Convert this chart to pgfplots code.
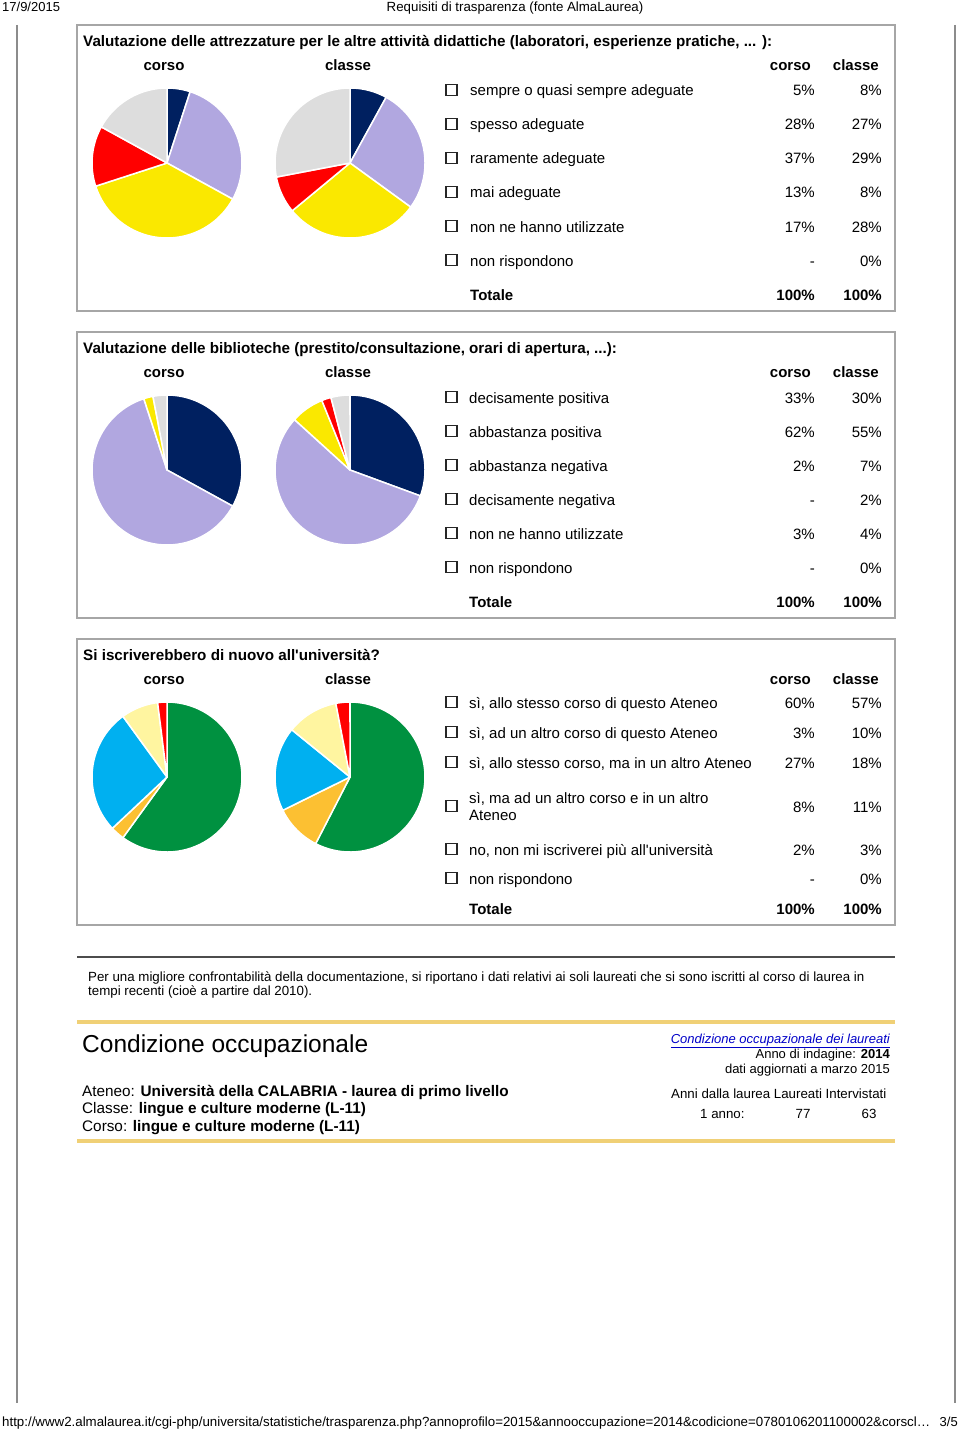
\documentclass[border=0pt]{standalone}
\usepackage{pgfplots}
\pgfplotsset{compat=1.18}
\usepackage{fontspec}
\setmainfont{Liberation Sans}[Ligatures=TeXOff]
\definecolor{cnavy}{RGB}{0,32,96}
\definecolor{clav}{RGB}{177,167,224}
\definecolor{cyel}{RGB}{250,232,0}
\definecolor{cred}{RGB}{255,0,0}
\definecolor{cgray}{RGB}{221,221,221}
\definecolor{cgreen}{RGB}{0,145,64}
\definecolor{cblue}{RGB}{0,176,240}
\definecolor{corange}{RGB}{252,192,50}
\definecolor{cpale}{RGB}{255,245,160}
\definecolor{cgold}{RGB}{240,208,118}
\definecolor{clink}{RGB}{0,0,200}
\newcommand\fsz[1]{\fontsize{#1bp}{#1bp}\selectfont}
% \slice{start}{value}{total}{colour}
\newcommand\slice[4]{\addplot[fill=#4, draw=white, line width=1.5bp, line join=round,
  domain={90-360*(#1+#2)/#3}:{90-360*(#1)/#3}, samples=60, variable=\t]
  ({cos(\t)},{sin(\t)}) -- (axis cs:0,0) -- cycle;}
\pgfplotsset{pie/.style={anchor=center, width=150bp, height=150bp, scale only axis,
  hide axis, xmin=-1, xmax=1, ymin=-1, ymax=1, clip=false}}
\newcommand\chk[1]{\draw[line width=1.1bp, black!85] (446,#1-5.5) rectangle (457,#1+5.5);}
\newcommand\row[5]{% y, x, label, corso, classe
  \chk{#1}
  \node[anchor=base west, inner sep=0, font=\fsz{15}] at (#2,#1+6) {#3};
  \node[anchor=base east, inner sep=0, font=\fsz{15}] at (815,#1+6) {#4};
  \node[anchor=base east, inner sep=0, font=\fsz{15}] at (882,#1+6) {#5};}
\newcommand\heads[1]{% y
  \node[anchor=base, inner sep=0, font=\fsz{15}\bfseries] at (164,#1+6.5) {corso};
  \node[anchor=base, inner sep=0, font=\fsz{15}\bfseries] at (348,#1+6.5) {classe};
  \node[anchor=base east, inner sep=0, font=\fsz{15}\bfseries] at (811,#1+6.5) {corso};
  \node[anchor=base east, inner sep=0, font=\fsz{15}\bfseries] at (879,#1+6.5) {classe};}
\newcommand\totale[2]{% y, x
  \node[anchor=base west, inner sep=0, font=\fsz{15}\bfseries] at (#2,#1+6.5) {Totale};
  \node[anchor=base east, inner sep=0, font=\fsz{15}\bfseries] at (815,#1+6.5) {100\%};
  \node[anchor=base east, inner sep=0, font=\fsz{15}\bfseries] at (882,#1+6.5) {100\%};}
\begin{document}
\begin{tikzpicture}[x=1bp, y=-1bp]
\fill[white] (0,0) rectangle (960,1433);
\path[use as bounding box] (0,0) rectangle (960,1433);
% page header
\node[anchor=base west, inner sep=0, font=\fsz{13}] at (2,12) {17/9/2015};
\node[anchor=base, inner sep=0, font=\fsz{13.3}] at (515,12) {Requisiti di trasparenza (fonte AlmaLaurea)};
% side rules
\draw[black!45, line width=1.2bp] (17,25) -- (17,1403);
\draw[black!45, line width=1.2bp] (955,25) -- (955,1403);
% boxes
\foreach \yy in {25,332,639} {
  \draw[black!35, line width=1.3bp] (77,\yy) rectangle (895,\yy+286);
}
% ---------------- Section 1
\node[anchor=base west, inner sep=0, font=\fsz{15.2}\bfseries] at (83,46.5) {Valutazione delle attrezzature per le altre attività didattiche (laboratori, esperienze pratiche, ... ):};
\heads{64}
\row{90}{470}{sempre o quasi sempre adeguate}{5\%}{8\%}
\row{124}{470}{spesso adeguate}{28\%}{27\%}
\row{158}{470}{raramente adeguate}{37\%}{29\%}
\row{192}{470}{mai adeguate}{13\%}{8\%}
\row{226}{470}{non ne hanno utilizzate}{17\%}{28\%}
\row{260}{470}{non rispondono}{-}{0\%}
\totale{294}{470}
\begin{axis}[pie, at={(167bp,-163bp)}]
\slice{0}{5}{100}{cnavy}
\slice{5}{28}{100}{clav}
\slice{33}{37}{100}{cyel}
\slice{70}{13}{100}{cred}
\slice{83}{17}{100}{cgray}
\end{axis}
\begin{axis}[pie, at={(350bp,-163bp)}]
\slice{0}{8}{100}{cnavy}
\slice{8}{27}{100}{clav}
\slice{35}{29}{100}{cyel}
\slice{64}{8}{100}{cred}
\slice{72}{28}{100}{cgray}
\end{axis}
% ---------------- Section 2
\node[anchor=base west, inner sep=0, font=\fsz{15.2}\bfseries] at (83,353.5) {Valutazione delle biblioteche (prestito/consultazione, orari di apertura, ...):};
\heads{371}
\row{397}{469}{decisamente positiva}{33\%}{30\%}
\row{431}{469}{abbastanza positiva}{62\%}{55\%}
\row{465}{469}{abbastanza negativa}{2\%}{7\%}
\row{499}{469}{decisamente negativa}{-}{2\%}
\row{533}{469}{non ne hanno utilizzate}{3\%}{4\%}
\row{567}{469}{non rispondono}{-}{0\%}
\totale{601}{469}
\begin{axis}[pie, at={(167bp,-470bp)}]
\slice{0}{33}{100}{cnavy}
\slice{33}{62}{100}{clav}
\slice{95}{2}{100}{cyel}
\slice{97}{3}{100}{cgray}
\end{axis}
\begin{axis}[pie, at={(350bp,-470bp)}]
\slice{0}{30}{98}{cnavy}
\slice{30}{55}{98}{clav}
\slice{85}{7}{98}{cyel}
\slice{92}{2}{98}{cred}
\slice{94}{4}{98}{cgray}
\end{axis}
% ---------------- Section 3
\node[anchor=base west, inner sep=0, font=\fsz{15.2}\bfseries] at (83,660.5) {Si iscriverebbero di nuovo all'università?};
\heads{678}
\row{702}{469}{sì, allo stesso corso di questo Ateneo}{60\%}{57\%}
\row{732}{469}{sì, ad un altro corso di questo Ateneo}{3\%}{10\%}
\row{762}{469}{sì, allo stesso corso, ma in un altro Ateneo}{27\%}{18\%}
\row{806}{469}{}{8\%}{11\%}
\node[anchor=base west, inner sep=0, font=\fsz{15}] at (469,803) {sì, ma ad un altro corso e in un altro};
\node[anchor=base west, inner sep=0, font=\fsz{15}] at (469,820) {Ateneo};
\row{849}{469}{no, non mi iscriverei più all'università}{2\%}{3\%}
\row{878}{469}{non rispondono}{-}{0\%}
\totale{908}{469}
\begin{axis}[pie, at={(167bp,-777bp)}]
\slice{0}{60}{100}{cgreen}
\slice{60}{3}{100}{corange}
\slice{63}{27}{100}{cblue}
\slice{90}{8}{100}{cpale}
\slice{98}{2}{100}{cred}
\end{axis}
\begin{axis}[pie, at={(350bp,-777bp)}]
\slice{0}{57}{99}{cgreen}
\slice{57}{10}{99}{corange}
\slice{67}{18}{99}{cblue}
\slice{85}{11}{99}{cpale}
\slice{96}{3}{99}{cred}
\end{axis}
% ---------------- Note
\draw[black!70, line width=2.5bp] (77,957) -- (895,957);
\node[anchor=base west, inner sep=0, font=\fsz{13.3}] at (88,981) {Per una migliore confrontabilità della documentazione, si riportano i dati relativi ai soli laureati che si sono iscritti al corso di laurea in};
\node[anchor=base west, inner sep=0, font=\fsz{13.3}] at (88,995) {tempi recenti (cioè a partire dal 2010).};
% ---------------- Condizione occupazionale
\draw[cgold, line width=4bp] (77,1022) -- (895,1022);
\draw[cgold, line width=4bp] (77,1141) -- (895,1141);
\node[anchor=base west, inner sep=0, font=\fsz{24.5}] at (82,1052) {Condizione occupazionale};
\node[anchor=base west, inner sep=0, font=\fsz{15.3}] at (82,1096) {Ateneo: \textbf{Università della CALABRIA - laurea di primo livello}};
\node[anchor=base west, inner sep=0, font=\fsz{15.3}] at (82,1113.5) {Classe: \textbf{lingue e culture moderne (L-11)}};
\node[anchor=base west, inner sep=0, font=\fsz{15.3}] at (82,1131) {Corso: \textbf{lingue e culture moderne (L-11)}};
\node[anchor=base east, inner sep=0, font=\fsz{13}, text=clink] at (890,1043) {\underline{\itshape Condizione occupazionale dei laureati}};
\node[anchor=base east, inner sep=0, font=\fsz{13}] at (890,1058) {Anno di indagine: \textbf{2014}};
\node[anchor=base east, inner sep=0, font=\fsz{13}] at (890,1073) {dati aggiornati a marzo 2015};
\node[anchor=base west, inner sep=0, font=\fsz{13.3}] at (671,1098) {Anni dalla laurea Laureati Intervistati};
\node[anchor=base west, inner sep=0, font=\fsz{13.3}] at (700,1118) {1 anno:};
\node[anchor=base, inner sep=0, font=\fsz{13.3}] at (803,1118) {77};
\node[anchor=base, inner sep=0, font=\fsz{13.3}] at (869,1118) {63};
% ---------------- footer
\node[anchor=base west, inner sep=0, font=\fsz{13.3}] at (2,1426) {http://www2.almalaurea.it/cgi-php/universita/statistiche/trasparenza.php?annoprofilo=2015\&annooccupazione=2014\&codicione=0780106201100002\&corscl…};
\node[anchor=base east, inner sep=0, font=\fsz{13}] at (958,1426) {3/5};
\end{tikzpicture}
\end{document}
